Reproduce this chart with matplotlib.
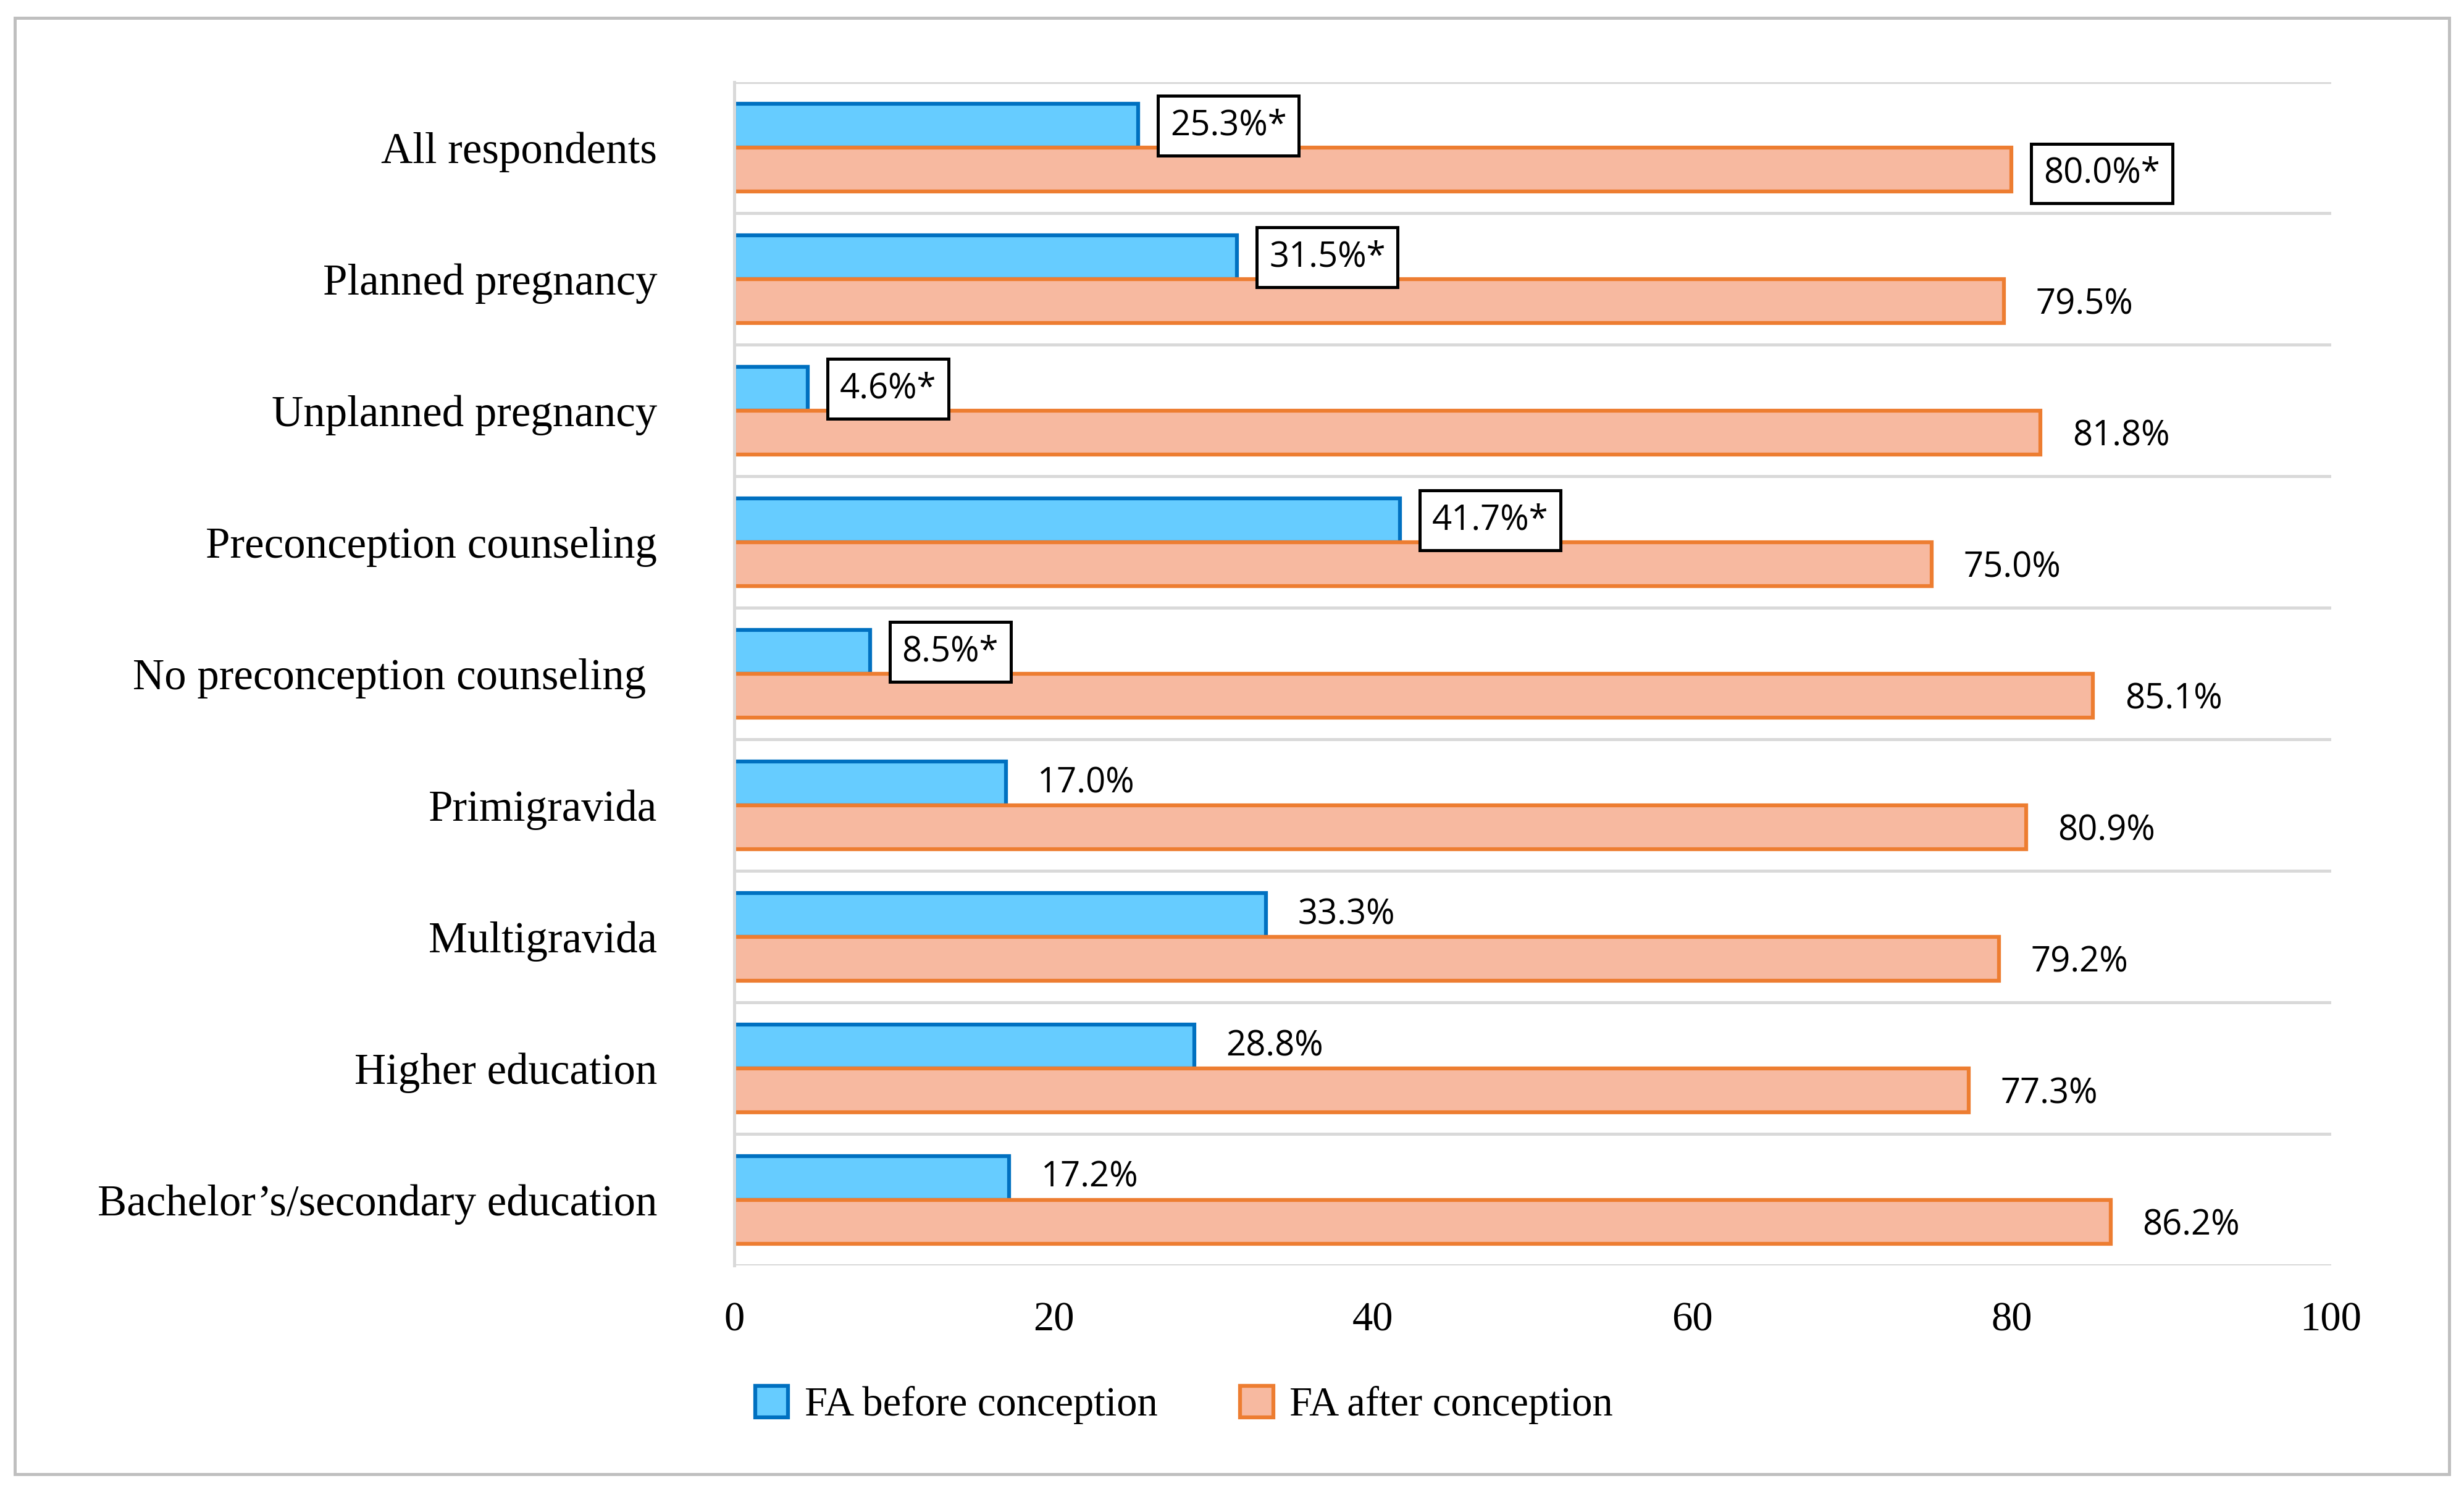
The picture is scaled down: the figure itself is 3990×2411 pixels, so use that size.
import matplotlib
matplotlib.use("Agg")
import matplotlib.pyplot as plt
from matplotlib.patches import Rectangle

categories = ["All respondents", "Planned pregnancy", "Unplanned pregnancy",
              "Preconception counseling", "No preconception counseling ",
              "Primigravida", "Multigravida", "Higher education",
              "Bachelor\u2019s/secondary education"]
before = [25.3, 31.5, 4.6, 41.7, 8.5, 17.0, 33.3, 28.8, 17.2]
after = [80.0, 79.5, 81.8, 75.0, 85.1, 80.9, 79.2, 77.3, 86.2]
before_star = [True, True, True, True, True, False, False, False, False]
after_star = [True, False, False, False, False, False, False, False, False]

fig = plt.figure(figsize=(13.3, 8.037), dpi=300)
fig.patches.append(Rectangle((0.006, 0.01), 0.988, 0.978, transform=fig.transFigure,
                             fill=False, edgecolor="#BFBFBF", linewidth=1.2))
ax = fig.add_axes([0.298, 0.15, 0.648, 0.795])
n = len(categories)
ys = list(range(n))
h = 0.333
blue_fc, blue_ec = "#66CCFF", "#0070C0"
or_fc, or_ec = "#F7B9A0", "#ED7D31"
ax.barh([y - h / 2 for y in ys], before, height=h, color=blue_fc, edgecolor=blue_ec,
        linewidth=1.5, label="FA before conception")
ax.barh([y + h / 2 for y in ys], after, height=h, color=or_fc, edgecolor=or_ec,
        linewidth=1.5, label="FA after conception")
lf = dict(family=["Open Sans", "DejaVu Sans"], fontsize=13.5, va="center")
for y, v, s in zip(ys, before, before_star):
    t = f"{v:.1f}%" + ("*" if s else "")
    bb = dict(boxstyle="square,pad=0.35", fc="white", ec="black", lw=1.2) if s else None
    ax.text(v + 2.0, y - h / 2 + (0.0 if not s else 0.0), t, bbox=bb, **lf)
for y, v, s in zip(ys, after, after_star):
    t = f"{v:.1f}%" + ("*" if s else "")
    bb = dict(boxstyle="square,pad=0.35", fc="white", ec="black", lw=1.2) if s else None
    ax.text(v + 2.0, y + h / 2 + 0.03, t, bbox=bb, **lf)
ax.set_ylim(n - 0.5, -0.5)
ax.set_xlim(0, 100)
ax.set_xticks([0, 20, 40, 60, 80, 100])
ax.set_yticks(ys)
ax.set_yticklabels(categories, family="Liberation Serif", fontsize=17)
for lab in ax.get_xticklabels():
    lab.set_family("Liberation Serif"); lab.set_fontsize(16)
for b in [i - 0.5 for i in range(n + 1)]:
    ax.axhline(b, color="#D9D9D9", lw=1.2, zorder=0)
for sp in ["top", "right", "bottom"]:
    ax.spines[sp].set_visible(False)
ax.spines["left"].set_color("#D9D9D9")
ax.spines["left"].set_linewidth(1.2)
ax.tick_params(axis="both", length=0, pad=14)
ax.tick_params(axis="y", pad=30)
leg = ax.legend(loc="upper left", bbox_to_anchor=(-0.01, -0.07), ncol=2, frameon=False,
                prop={"family": "Liberation Serif", "size": 16}, handlelength=0.8,
                handleheight=0.8, columnspacing=2.0, handletextpad=0.4)
fig.savefig("out.png", dpi=300)
